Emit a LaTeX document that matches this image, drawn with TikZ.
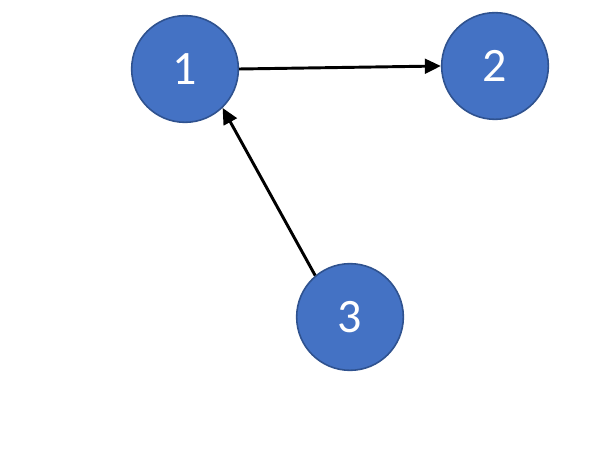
\documentclass[tikz,border=0pt]{standalone}
\usepackage{fontspec}
\setmainfont{Carlito}
\usetikzlibrary{arrows.meta}
\definecolor{nodeblue}{HTML}{4472C4}
\definecolor{nodeedge}{HTML}{2F528F}
\tikzset{
  vertex/.style={circle, fill=nodeblue, draw=nodeedge, line width=1.2pt,
    minimum size=80pt, inner sep=0pt, text=white, font=\fontsize{36}{40}\selectfont},
  edge/.style={-{Triangle[length=12pt, width=11pt]}, line width=2.2pt, black}
}
\begin{document}
\begin{tikzpicture}[x=0.75pt, y=-0.75pt]
  \useasboundingbox (0,0) rectangle (598,459);
  % nodes
  \node[vertex] (n1) at (185,69) {1};
  \node[vertex] (n2) at (495,66) {2};
  \node[vertex] (n3) at (350,317) {3};
  % edges
  \draw[edge] (n1.east) -- (n2.west);
  \draw[edge] (n3.130) -- (n1.-46);
\end{tikzpicture}
\end{document}
